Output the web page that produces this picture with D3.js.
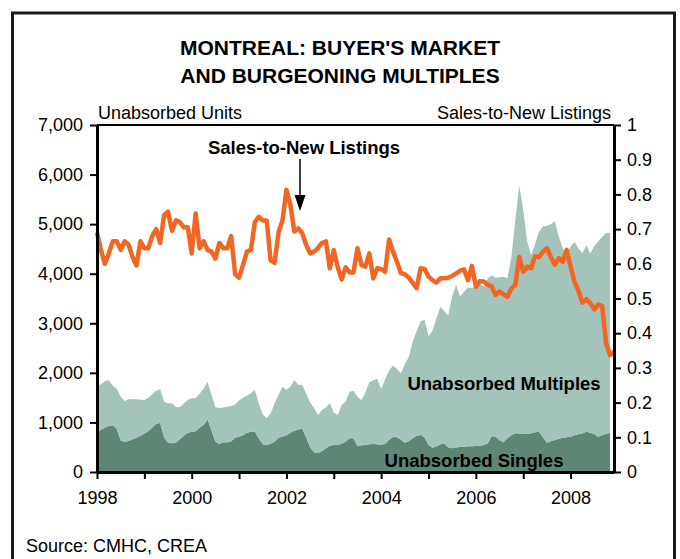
<!doctype html>
<html lang="en">
<head>
    <meta charset="utf-8">
    <title>Montreal: buyer's market</title>
    <style type="text/css">
        html, body {
            margin: 0;
            padding: 0;
            width: 680px;
            height: 559px;
            background-color: #fff;
            overflow: hidden;
        }
        svg text {
            font-family: "Liberation Sans", Arial, sans-serif;
            fill: #000;
        }
    </style>
</head>
<body>
    <svg id="chart" width="680" height="559"></svg>

    <script src="https://cdn.jsdelivr.net/npm/d3@7/dist/d3.min.js"></script>
    <script>
        // monthly, Jan 1998 onward
        const startYear = 1998;
        const yearTicks = [1998, 1999, 2000, 2001, 2002, 2003, 2004, 2005, 2006, 2007, 2008];
        const unitTicks = [0, 1000, 2000, 3000, 4000, 5000, 6000, 7000];
        const ratioTicks = [0, 0.1, 0.2, 0.3, 0.4, 0.5, 0.6, 0.7, 0.8, 0.9, 1];

        const salesToNewListings = [
            0.69, 0.64, 0.60, 0.63, 0.665, 0.665, 0.64, 0.665, 0.655, 0.62, 0.595, 0.665,
            0.645, 0.645, 0.68, 0.70, 0.66, 0.74, 0.75, 0.695, 0.725, 0.72, 0.705, 0.705,
            0.63, 0.745, 0.645, 0.665, 0.64, 0.635, 0.615, 0.66, 0.645, 0.645, 0.68, 0.57,
            0.56, 0.597, 0.635, 0.64, 0.72, 0.735, 0.725, 0.725, 0.61, 0.603, 0.69, 0.725,
            0.813, 0.77, 0.693, 0.702, 0.688, 0.655, 0.63, 0.635, 0.645, 0.66, 0.665, 0.587,
            0.64, 0.59, 0.555, 0.59, 0.575, 0.575, 0.645, 0.597, 0.592, 0.63, 0.558, 0.587,
            0.585, 0.577, 0.67, 0.635, 0.606, 0.573, 0.57, 0.56, 0.545, 0.53, 0.587, 0.585,
            0.563, 0.553, 0.546, 0.558, 0.558, 0.56, 0.565, 0.572, 0.58, 0.584, 0.553, 0.594,
            0.534, 0.55, 0.549, 0.54, 0.535, 0.51, 0.52, 0.512, 0.505, 0.529, 0.539, 0.62,
            0.577, 0.592, 0.587, 0.622, 0.619, 0.635, 0.645, 0.619, 0.597, 0.616, 0.606, 0.64,
            0.592, 0.548, 0.522, 0.488, 0.498, 0.486, 0.469, 0.483, 0.478, 0.371, 0.337, 0.347
        ];

        const unabsorbedSingles = [
            800, 850, 900, 930, 945, 870, 630, 612, 625, 660, 690, 730,
            770, 820, 900, 975, 990, 700, 592, 580, 590, 660, 730, 790,
            813, 820, 900, 950, 1060, 840, 612, 565, 600, 600, 620, 690,
            712, 740, 790, 813, 813, 680, 560, 540, 575, 612, 690, 715,
            740, 790, 833, 855, 873, 700, 500, 400, 385, 420, 478, 530,
            545, 550, 570, 612, 680, 680, 520, 540, 545, 560, 565, 560,
            550, 570, 650, 705, 700, 650, 590, 620, 680, 730, 745, 700,
            545, 490, 520, 560, 575, 500, 480, 495, 505, 510, 520, 520,
            525, 530, 545, 575, 720, 715, 640, 600, 680, 740, 780, 775,
            770, 765, 780, 800, 813, 700, 592, 620, 645, 670, 690, 700,
            712, 740, 760, 780, 813, 790, 760, 712, 740, 770, 793
        ];

        const unabsorbedMultiples = [
            920, 920, 930, 920, 795, 810, 890, 820, 845, 806, 776, 730,
            682, 680, 670, 665, 680, 720, 793, 805, 720, 650, 650, 660,
            673, 666, 680, 730, 762, 720, 693, 725, 700, 720, 710, 670,
            728, 760, 750, 777, 841, 700, 600, 543, 605, 773, 870, 1005,
            920, 930, 1022, 905, 882, 880, 900, 890, 765, 830, 822, 855,
            655, 600, 780, 808, 940, 960, 1000, 910, 1055, 1250, 1285, 1320,
            1120, 1300, 1400, 1445, 1380, 1341, 1590, 1700, 1960, 2110, 2295, 2370,
            2195, 2360, 2580, 2770, 2675, 2650, 3070, 3275, 3035, 3127, 3200, 3190,
            3215, 3270, 3195, 3325, 3250, 3205, 3290, 3340, 3230, 3600, 4300, 5005,
            4515, 3885, 3600, 3800, 4037, 4250, 4378, 4380, 4415, 4080, 3830, 3700,
            3838, 3900, 3750, 3640, 3757, 3620, 3800, 3938, 4000, 4050, 4027
        ];

        const svg = d3.select("#chart");
        const plot = {left: 97, right: 614, top: 125, bottom: 472};

        const x = d3.scaleLinear()
            .domain([startYear, startYear + (salesToNewListings.length - 1) / 12])
            .range([plot.left, plot.right]);
        const yUnits = d3.scaleLinear().domain([0, 7000]).range([plot.bottom, plot.top]);
        const yRatio = d3.scaleLinear().domain([0, 1]).range([plot.bottom, plot.top]);

        // outer frame (runs off the bottom edge)
        svg.append("rect")
            .attr("x", 12.5).attr("y", 13)
            .attr("width", 662).attr("height", 600)
            .attr("fill", "none")
            .attr("stroke", "#1b1b1b")
            .attr("stroke-width", 3);

        // stacked areas
        let rows = unabsorbedSingles.map((s, i) => ({
            t: startYear + i / 12,
            singles: s,
            multiples: unabsorbedMultiples[i]
        }));
        let stacked = d3.stack().keys(["singles", "multiples"])(rows);
        let colours = {singles: "#5f8575", multiples: "#a4c3ba"};

        let area = d3.area()
            .x(d => x(d.data.t))
            .y0(d => yUnits(d[0]))
            .y1(d => yUnits(d[1]));

        svg.append("g").selectAll("path")
            .data(stacked)
            .join("path")
            .attr("d", area)
            .attr("fill", d => colours[d.key]);

        // sales-to-new listings line
        let line = d3.line()
            .x((d, i) => x(startYear + i / 12))
            .y(d => yRatio(d));

        svg.append("path")
            .datum(salesToNewListings)
            .attr("d", line)
            .attr("fill", "none")
            .attr("stroke", "#f26522")
            .attr("stroke-width", 4.5)
            .attr("stroke-linejoin", "round");

        // top edge of the plot
        svg.append("line")
            .attr("x1", plot.left).attr("x2", plot.right)
            .attr("y1", plot.top).attr("y2", plot.top)
            .attr("stroke", "#000").attr("stroke-width", 2);

        function styleAxis(g) {
            g.select(".domain").attr("stroke", "#000").attr("stroke-width", 3);
            g.selectAll(".tick line").attr("stroke", "#000").attr("stroke-width", 2);
            g.selectAll(".tick text")
                .attr("font-size", 18)
                .attr("font-family", "'Liberation Sans', Arial, sans-serif");
        }

        svg.append("g")
            .attr("transform", `translate(${plot.left},0)`)
            .call(d3.axisLeft(yUnits).tickValues(unitTicks).tickSize(7).tickPadding(7)
                .tickFormat(d3.format(",")).tickSizeOuter(0))
            .call(styleAxis);

        svg.append("g")
            .attr("transform", `translate(${plot.right},0)`)
            .call(d3.axisRight(yRatio).tickValues(ratioTicks).tickSize(7).tickPadding(6)
                .tickFormat(d3.format(".1~f")).tickSizeOuter(0))
            .call(styleAxis);

        svg.append("g")
            .attr("transform", `translate(0,${plot.bottom})`)
            .call(d3.axisBottom(x).tickValues(yearTicks).tickSize(7).tickPadding(12)
                .tickFormat(d => d % 2 === 0 ? d : "").tickSizeOuter(0))
            .call(styleAxis);

        // titles and labels
        svg.append("text")
            .attr("x", 340).attr("y", 55)
            .attr("text-anchor", "middle")
            .attr("font-size", 21).attr("font-weight", "bold")
            .text("MONTREAL: BUYER'S MARKET");
        svg.append("text")
            .attr("x", 340).attr("y", 83)
            .attr("text-anchor", "middle")
            .attr("font-size", 21).attr("font-weight", "bold")
            .text("AND BURGEONING MULTIPLES");

        svg.append("text")
            .attr("x", 98).attr("y", 119)
            .attr("font-size", 18)
            .text("Unabsorbed Units");
        svg.append("text")
            .attr("x", 611).attr("y", 119)
            .attr("text-anchor", "end")
            .attr("font-size", 18)
            .text("Sales-to-New Listings");

        svg.append("text")
            .attr("x", 304).attr("y", 154)
            .attr("text-anchor", "middle")
            .attr("font-size", 18.5).attr("font-weight", "bold")
            .text("Sales-to-New Listings");

        // arrow to the 2002 peak
        svg.append("line")
            .attr("x1", 300).attr("x2", 300)
            .attr("y1", 159).attr("y2", 198)
            .attr("stroke", "#000").attr("stroke-width", 1.5);
        svg.append("path")
            .attr("d", "M294.5,195 L305.5,195 L300,211 Z")
            .attr("fill", "#000");

        svg.append("text")
            .attr("x", 504).attr("y", 390)
            .attr("text-anchor", "middle")
            .attr("font-size", 18.5).attr("font-weight", "bold")
            .text("Unabsorbed Multiples");
        svg.append("text")
            .attr("x", 474).attr("y", 467)
            .attr("text-anchor", "middle")
            .attr("font-size", 18.5).attr("font-weight", "bold")
            .text("Unabsorbed Singles");

        svg.append("text")
            .attr("x", 26).attr("y", 552)
            .attr("font-size", 18)
            .text("Source: CMHC, CREA");
    </script>
</body>
</html>
